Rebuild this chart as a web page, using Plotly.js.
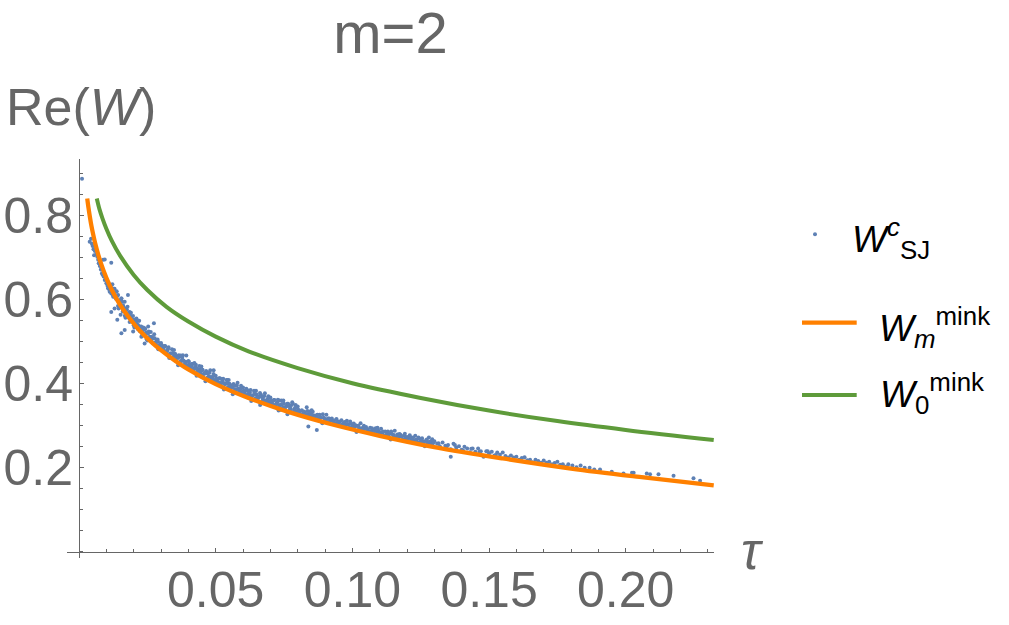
<!DOCTYPE html>
<html><head><meta charset="utf-8">
<script src="https://cdn.plot.ly/plotly-3.0.1.min.js"></script>
<style>html,body{margin:0;padding:0;background:#fff;} #chart{width:1009px;height:625px;}</style>
</head><body><div id="chart"></div>
<script>
// ---- tick labels ----
const xTickVals = [0.05, 0.10, 0.15, 0.20];
const xTickText = ['0.05', '0.10', '0.15', '0.20'];
const yTickVals = [0.2, 0.4, 0.6, 0.8];
const yTickText = ['0.2', '0.4', '0.6', '0.8'];

// ---- W_m^mink (orange curve) ----
const tauMinkM = [0.0030,0.0035,0.0040,0.0045,0.0050,0.0060,0.0070,0.0080,0.0100,0.0120,0.0150,0.0180,0.0220,0.0270,0.0330,0.0400,0.0500,0.0620,0.0760,0.0920,0.1100,0.1300,0.1550,0.1800,0.2050,0.2322];
const wMinkM   = [0.841,0.817,0.796,0.777,0.761,0.732,0.708,0.687,0.652,0.623,0.588,0.560,0.528,0.496,0.465,0.434,0.399,0.366,0.334,0.304,0.276,0.249,0.222,0.198,0.178,0.158];

// ---- W_0^mink (green curve) ----
const tauMink0 = [0.0065,0.0075,0.0085,0.0100,0.0120,0.0150,0.0200,0.0250,0.0320,0.0400,0.0500,0.0620,0.0800,0.1000,0.1250,0.1500,0.1750,0.2000,0.2322];
const wMink0   = [0.841,0.815,0.795,0.769,0.740,0.705,0.659,0.623,0.583,0.548,0.512,0.477,0.437,0.401,0.366,0.336,0.311,0.290,0.266];

// ---- W^c_SJ points (by tau region) ----
const tauSJa = [0.0011,0.0039,0.0047,0.0055,0.0060,0.0067,0.0072,0.0088,0.0094,0.0118,0.0084,0.0094,0.0100,0.0106,0.0112,0.0118,0.0124,0.0130,0.0137,0.0143,0.0149,0.0155,0.0161,0.0167,0.0179,0.0118,0.0130,0.0140,0.0152,0.0167,0.0179,0.0185,0.0191,0.0198,0.0204,0.0210,0.0216,0.0222,0.0234,0.0240,0.0253,0.0274,0.0247,0.0259,0.0155,0.0198,0.0167,0.0228,0.0265,0.0277,0.0289,0.0302,0.0314,0.0240,0.0283,0.0050,0.0058,0.0063,0.0070,0.0076,0.0080,0.0086,0.0090,0.0098,0.0104,0.0110,0.0115,0.0108,0.0122,0.0044,0.0053];
const wSJa   = [0.888,0.738,0.733,0.706,0.726,0.702,0.687,0.695,0.696,0.688,0.663,0.647,0.639,0.627,0.619,0.615,0.611,0.607,0.619,0.611,0.595,0.603,0.587,0.595,0.611,0.571,0.579,0.552,0.564,0.576,0.568,0.571,0.560,0.552,0.544,0.555,0.540,0.536,0.528,0.532,0.536,0.544,0.520,0.512,0.520,0.524,0.528,0.512,0.504,0.508,0.500,0.492,0.488,0.496,0.492,0.728,0.716,0.708,0.695,0.680,0.672,0.660,0.655,0.650,0.633,0.625,0.628,0.640,0.637,0.745,0.720];

const tauSJb = [0.0120,0.0125,0.0130,0.0135,0.0140,0.0145,0.0150,0.0155,0.0160,0.0165,0.0170,0.0175,0.0180,0.0185,0.0190,0.0195,0.0200,0.0205,0.0210,0.0215,0.0220,0.0225,0.0230,0.0235,0.0240,0.0245,0.0250,0.0255,0.0260,0.0265,0.0270,0.0275,0.0280,0.0285,0.0290,0.0295,0.0300,
0.01225,0.01275,0.01325,0.01375,0.01425,0.01475,0.01525,0.01575,0.01625,0.01675,0.01725,0.01775,0.01825,0.01875,0.01925,0.01975,0.02025,0.02075,0.02125,0.02175,0.02225,0.02275,0.02325,0.02375,0.02425,0.02475,0.02525,0.02575,0.02625,0.02675,0.02725,0.02775,0.02825,0.02875,0.02925,0.02975];
const wSJb   = [0.628,0.607,0.626,0.602,0.609,0.579,0.590,0.603,0.572,0.581,0.557,0.576,0.560,0.547,0.569,0.551,0.539,0.553,0.543,0.530,0.550,0.534,0.514,0.534,0.518,0.522,0.503,0.524,0.508,0.512,0.497,0.518,0.498,0.503,0.482,0.492,0.497,
0.614,0.626,0.608,0.620,0.585,0.598,0.583,0.595,0.580,0.562,0.577,0.583,0.557,0.562,0.552,0.561,0.534,0.548,0.539,0.550,0.525,0.536,0.527,0.518,0.530,0.506,0.519,0.510,0.523,0.507,0.509,0.495,0.500,0.505,0.489,0.494];

const tauSJc = [0.0305,0.0310,0.0315,0.0320,0.0325,0.0330,0.0335,0.0340,0.0345,0.0350,
0.0355,0.0360,0.0365,0.0370,0.0375,0.0380,0.0385,0.0390,0.0395,0.0400,
0.0405,0.0410,0.0415,0.0420,0.0425,0.0430,0.0435,0.0440,0.0445,0.0450,
0.0455,0.0460,0.0465,0.0470,0.0475,0.0480,0.0485,0.0490,0.0495,0.0500,
0.0505,0.0510,0.0515,0.0520,0.0525,0.0530,0.0535,0.0540,0.0545,0.0550,
0.0555,0.0560,0.0565,0.0570,0.0575,0.0580,0.0585,0.0590,0.0595,0.0600,
0.0605,0.0610,0.0615,0.0620,0.0625,0.0630,0.0635,0.0640,0.0645,0.0650,
0.0655,0.0660,0.0665,0.0670,0.0675,0.0680,0.0685,0.0690,0.0695,0.0700,
0.0705,0.0710,0.0715,0.0720,0.0725,0.0730,0.0735,0.0740,0.0745,0.0750,
0.0755,0.0760,0.0765,0.0770,0.0775,0.0780,0.0785,0.0790,0.0795,0.0800];
const wSJc   = [0.489,0.478,0.490,0.477,0.482,0.461,0.472,0.482,0.464,0.471,
0.454,0.464,0.468,0.452,0.454,0.468,0.443,0.452,0.443,0.454,
0.445,0.435,0.447,0.435,0.440,0.419,0.431,0.442,0.424,0.432,
0.415,0.425,0.430,0.414,0.417,0.432,0.407,0.417,0.408,0.419,
0.410,0.400,0.413,0.401,0.407,0.386,0.399,0.409,0.392,0.400,
0.384,0.395,0.399,0.384,0.386,0.402,0.378,0.387,0.379,0.391,
0.381,0.372,0.385,0.374,0.379,0.359,0.372,0.383,0.365,0.374,
0.358,0.369,0.374,0.358,0.361,0.377,0.353,0.363,0.355,0.367,
0.357,0.348,0.361,0.350,0.356,0.336,0.349,0.360,0.343,0.352,
0.336,0.347,0.352,0.337,0.340,0.356,0.332,0.342,0.334,0.346];

const tauSJd = [0.03075,0.03125,0.03175,0.03225,0.03275,0.03325,0.03375,0.03425,0.03475,0.03525,
0.03575,0.03625,0.03675,0.03725,0.03775,0.03825,0.03875,0.03925,0.03975,0.04025,
0.04075,0.04125,0.04175,0.04225,0.04275,0.04325,0.04375,0.04425,0.04475,0.04525,
0.04575,0.04625,0.04675,0.04725,0.04775,0.04825,0.04875,0.04925,0.04975,0.05025,
0.05075,0.05125,0.05175,0.05225,0.05275,0.05325,0.05375,0.05425,0.05475,0.05525,
0.05575,0.05625,0.05675,0.05725,0.05775,0.05825,0.05875,0.05925,0.05975,0.06025,
0.06075,0.06125,0.06175,0.06225,0.06275,0.06325,0.06375,0.06425,0.06475,0.06525,
0.06575,0.06625,0.06675,0.06725,0.06775,0.06825,0.06875,0.06925,0.06975,0.07025,
0.07075,0.07125,0.07175,0.07225,0.07275,0.07325,0.07375,0.07425,0.07475,0.07525,
0.07575,0.07625,0.07675,0.07725,0.07775,0.07825,0.07875,0.07925,0.07975,0.08025];
const wSJd   = [0.483,0.490,0.473,0.479,0.487,0.472,0.461,0.473,0.480,0.459,
0.464,0.444,0.464,0.454,0.462,0.444,0.449,0.467,0.441,0.446,
0.439,0.447,0.430,0.437,0.445,0.431,0.420,0.433,0.441,0.420,
0.425,0.406,0.426,0.416,0.426,0.408,0.413,0.432,0.406,0.412,
0.404,0.413,0.396,0.403,0.412,0.399,0.388,0.401,0.409,0.389,
0.394,0.375,0.395,0.386,0.396,0.378,0.384,0.395,0.377,0.383,
0.376,0.384,0.368,0.376,0.385,0.372,0.361,0.374,0.383,0.363,
0.368,0.349,0.370,0.361,0.371,0.353,0.359,0.370,0.353,0.359,
0.352,0.361,0.345,0.353,0.362,0.348,0.338,0.351,0.360,0.340,
0.346,0.327,0.348,0.339,0.349,0.332,0.338,0.349,0.332,0.338];

const tauSJe = [0.0805,0.0810,0.0815,0.0820,0.0825,0.0830,0.0835,0.0840,0.0845,0.0850,
0.0855,0.0860,0.0865,0.0870,0.0875,0.0880,0.0885,0.0890,0.0895,0.0900,
0.0905,0.0910,0.0915,0.0920,0.0925,0.0930,0.0935,0.0940,0.0945,0.0950,
0.0955,0.0960,0.0965,0.0970,0.0975,0.0980,0.0985,0.0990,0.0995,0.1000,
0.1005,0.1010,0.1015,0.1020,0.1025,0.1030,0.1035,0.1040,0.1045,0.1050,
0.1055,0.1060,0.1065,0.1070,0.1075,0.1080,0.1085,0.1090,0.1095,0.1100,
0.1105,0.1110,0.1115,0.1120,0.1125,0.1130,0.1135,0.1140,0.1145,0.1150,
0.1155,0.1160,0.1165,0.1170,0.1175,0.1180,0.1185,0.1190,0.1195,0.1200,
0.1205,0.1210,0.1215,0.1220,0.1225,0.1230,0.1235,0.1240,0.1245,0.1250,
0.1255,0.1260,0.1265,0.1270,0.1275,0.1280,0.1285,0.1290,0.1295,0.1300];
const wSJe   = [0.334,0.328,0.337,0.329,0.332,0.322,0.335,0.326,0.329,0.321,
0.333,0.324,0.316,0.325,0.318,0.326,0.319,0.306,0.319,0.314,
0.326,0.309,0.317,0.312,0.317,0.311,0.305,0.314,0.307,0.310,
0.300,0.313,0.304,0.307,0.300,0.312,0.303,0.295,0.304,0.297,
0.305,0.298,0.285,0.299,0.294,0.306,0.289,0.296,0.292,0.297,
0.291,0.285,0.295,0.287,0.290,0.281,0.294,0.285,0.288,0.281,
0.293,0.284,0.276,0.286,0.278,0.286,0.280,0.267,0.280,0.276,
0.288,0.271,0.279,0.274,0.279,0.274,0.268,0.277,0.270,0.273,
0.263,0.277,0.268,0.271,0.264,0.276,0.267,0.260,0.269,0.261,
0.270,0.263,0.251,0.264,0.259,0.272,0.255,0.263,0.258,0.263];

const tauSJf = [0.131,0.132,0.133,0.134,0.135,0.136,0.137,0.138,0.139,0.140,0.141,0.142,0.143,0.144,0.145,0.146,0.147,0.148,0.149,0.150,0.151,0.152,0.153,0.154,0.155,
0.1315,0.1345,0.1375,0.1405,0.1435,0.1465,0.1495,0.1525,
0.0870,0.1360,0.0839,0.0833,0.0851];
const wSJf   = [0.257,0.251,0.260,0.252,0.254,0.244,0.257,0.248,0.251,0.243,0.250,0.246,0.237,0.246,0.238,0.246,0.239,0.226,0.239,0.234,0.238,0.229,0.236,0.231,0.236,
0.258,0.250,0.254,0.241,0.245,0.238,0.239,0.230,
0.290,0.226,0.298,0.344,0.337];

const tauSJg = [0.156,0.157,0.158,0.159,0.160,0.161,0.162,0.163,0.164,0.165,0.166,0.167,0.168,0.169,0.170,0.171,0.172,0.173,0.174,0.175,0.176,0.177,0.178,0.179,
0.1805,0.1820,0.1835,0.1850,0.1868,0.1885,0.1906,0.1949,0.1992,0.2023,0.2029,0.2077,0.2089,0.2120,0.2175,0.2248,0.2272];
const wSJg   = [0.228,0.224,0.229,0.224,0.226,0.219,0.223,0.225,0.218,0.219,0.213,0.219,0.216,0.212,0.217,0.212,0.214,0.208,0.211,0.214,0.207,0.208,0.202,0.208,
0.205,0.201,0.205,0.200,0.200,0.196,0.196,0.1905,0.1864,0.1879,0.1879,0.1864,0.1843,0.1843,0.1810,0.1748,0.1690];

const tauSJh = [0.0352,0.0362,0.0372,0.0382,0.0392,0.0402,0.0412,0.0422,0.0432,0.0442,0.0452,0.0462,
0.0472,0.0482,0.0492,0.0502,0.0512,0.0522,0.0532,0.0542,0.0552,0.0562,0.0572,0.0582,
0.0592,0.0602,0.0612,0.0622,0.0632,0.0642,0.0652,0.0662,0.0672,0.0682,0.0692,0.0702,
0.0712,0.0722,0.0732,0.0742,0.0752,0.0762,0.0772,0.0782,0.0792];
const wSJh   = [0.471,0.461,0.467,0.455,0.445,0.452,0.442,0.449,0.437,0.429,0.433,0.424,
0.425,0.416,0.423,0.412,0.403,0.411,0.401,0.409,0.398,0.391,0.396,0.388,
0.389,0.381,0.388,0.379,0.370,0.379,0.369,0.378,0.367,0.360,0.366,0.359,
0.360,0.352,0.360,0.351,0.343,0.352,0.343,0.352,0.342];

const tauSJi = [0.0822,0.0832,0.0842,0.0852,0.0862,0.0872,0.0882,0.0892,0.0902,0.0912,
0.0922,0.0932,0.0942,0.0952,0.0962,0.0972,0.0982,0.0992,0.1002,0.1012,
0.1022,0.1032,0.1042,0.1052,0.1062,0.1072,0.1082,0.1092,0.1102,0.1112,
0.1122,0.1132,0.1142,0.1152,0.1162,0.1172,0.1182,0.1192,0.1202,0.1212,
0.1222,0.1232,0.1242,0.1252,0.1262,0.1272,0.1282,0.1292];
const wSJi   = [0.334,0.327,0.334,0.326,0.320,0.326,0.321,0.327,0.316,0.317,
0.316,0.310,0.316,0.308,0.303,0.309,0.304,0.310,0.299,0.301,
0.300,0.294,0.300,0.293,0.287,0.294,0.289,0.295,0.284,0.286,
0.285,0.279,0.286,0.278,0.273,0.280,0.275,0.281,0.270,0.272,
0.272,0.266,0.272,0.265,0.260,0.267,0.262,0.268];

const tauSJ = [].concat(tauSJa, tauSJb, tauSJc, tauSJd, tauSJh, tauSJe, tauSJi, tauSJf, tauSJg);
const wSJ   = [].concat(wSJa, wSJb, wSJc, wSJd, wSJh, wSJe, wSJi, wSJf, wSJg);

// ---- colours ----
const cBlue = '#5E81B5', cOrange = '#FF8000', cGreen = '#5E9B3A', cGray = '#666666';
const FONT = 'Liberation Sans, Arial, Helvetica, sans-serif';

// ---- layout geometry (pixels) ----
const W = 1009, H = 625, ML = 67, MR = 295, MT = 159, MB = 67;
const PW = W - ML - MR, PH = H - MT - MB;
const px = v => (v - ML) / PW;
const py = v => (H - MB - v) / PH;

const traces = [
  {type:'scatter', mode:'markers', x:tauSJ, y:wSJ, name:'SJ',
   marker:{size:4, color:cBlue}, showlegend:false},
  {type:'scatter', mode:'lines', x:tauMink0, y:wMink0, name:'W0',
   line:{color:cGreen, width:4, shape:'spline'}, showlegend:false},
  {type:'scatter', mode:'lines', x:tauMinkM, y:wMinkM, name:'Wm',
   line:{color:cOrange, width:4.3, shape:'spline'}, showlegend:false}
];

const tickFont = {family:FONT, size:50, color:cGray};

const layout = {
  width:W, height:H, margin:{l:ML, r:MR, t:MT, b:MB, autoexpand:false},
  paper_bgcolor:'#fff', plot_bgcolor:'#fff', showlegend:false, hovermode:false,
  title:{text:'m=2', font:{family:FONT, size:58, color:cGray}, x:390.5/W, xref:'container', xanchor:'center', y:1-33/H, yref:'container', yanchor:'middle'},
  xaxis:{range:[-0.0044, 0.2323], showgrid:false, zeroline:false, showline:true, linecolor:cGray, linewidth:1,
    anchor:'free', position:0.0158, side:'bottom', ticks:'inside', ticklen:4, tickwidth:1, tickcolor:cGray,
    tickmode:'array', tickvals:xTickVals, ticktext:xTickText, tickfont:tickFont, automargin:false, ticklabelstandoff:-6,
    minor:{tickmode:'linear', tick0:0, dtick:0.01, ticks:'inside', ticklen:2.5, tickwidth:1, tickcolor:cGray, showgrid:false}},
  yaxis:{range:[-0.015, 0.935], showgrid:false, zeroline:false, showline:true, linecolor:cGray, linewidth:1,
    anchor:'free', position:0.0186, side:'left', ticks:'inside', ticklen:4, tickwidth:1, tickcolor:cGray,
    tickmode:'array', tickvals:yTickVals, ticktext:yTickText, tickfont:tickFont, automargin:false, ticklabelstandoff:-4,
    minor:{tickmode:'linear', tick0:0, dtick:0.05, ticks:'inside', ticklen:2.5, tickwidth:1, tickcolor:cGray, showgrid:false}},
  annotations:[
    {xref:'paper', yref:'paper', x:px(4), y:py(107), xanchor:'left', yanchor:'middle', showarrow:false,
     text:'Re(<i>W</i>)', font:{family:FONT, size:52, color:cGray}},
    {xref:'paper', yref:'paper', x:px(752), y:py(551), xanchor:'center', yanchor:'middle', showarrow:false,
     text:'<i>τ</i>', font:{family:FONT, size:52, color:cGray}},
    {xref:'paper', yref:'paper', x:px(850), y:py(238), xanchor:'left', yanchor:'middle', showarrow:false,
     text:'<i>W</i><sup><i>c</i></sup><sub>SJ</sub>', font:{family:FONT, size:37, color:'#000'}},
    {xref:'paper', yref:'paper', x:px(877), y:py(327), xanchor:'left', yanchor:'middle', showarrow:false,
     text:'<i>W</i><sub><i>m</i></sub><sup>mink</sup>', font:{family:FONT, size:37, color:'#000'}},
    {xref:'paper', yref:'paper', x:px(878), y:py(393), xanchor:'left', yanchor:'middle', showarrow:false,
     text:'<i>W</i><sub>0</sub><sup>mink</sup>', font:{family:FONT, size:37, color:'#000'}}
  ],
  shapes:[
    {type:'circle', xref:'paper', yref:'paper', x0:px(813), x1:px(817), y0:py(236.3), y1:py(232.3),
     fillcolor:cBlue, line:{width:0}},
    {type:'line', xref:'paper', yref:'paper', x0:px(802), x1:px(856.7), y0:py(322.7), y1:py(322.7),
     line:{color:cOrange, width:4.3}},
    {type:'line', xref:'paper', yref:'paper', x0:px(802), x1:px(856.7), y0:py(395), y1:py(395),
     line:{color:cGreen, width:4}}
  ]
};

Plotly.newPlot('chart', traces, layout, {staticPlot:true, displayModeBar:false});
</script>
</body></html>
